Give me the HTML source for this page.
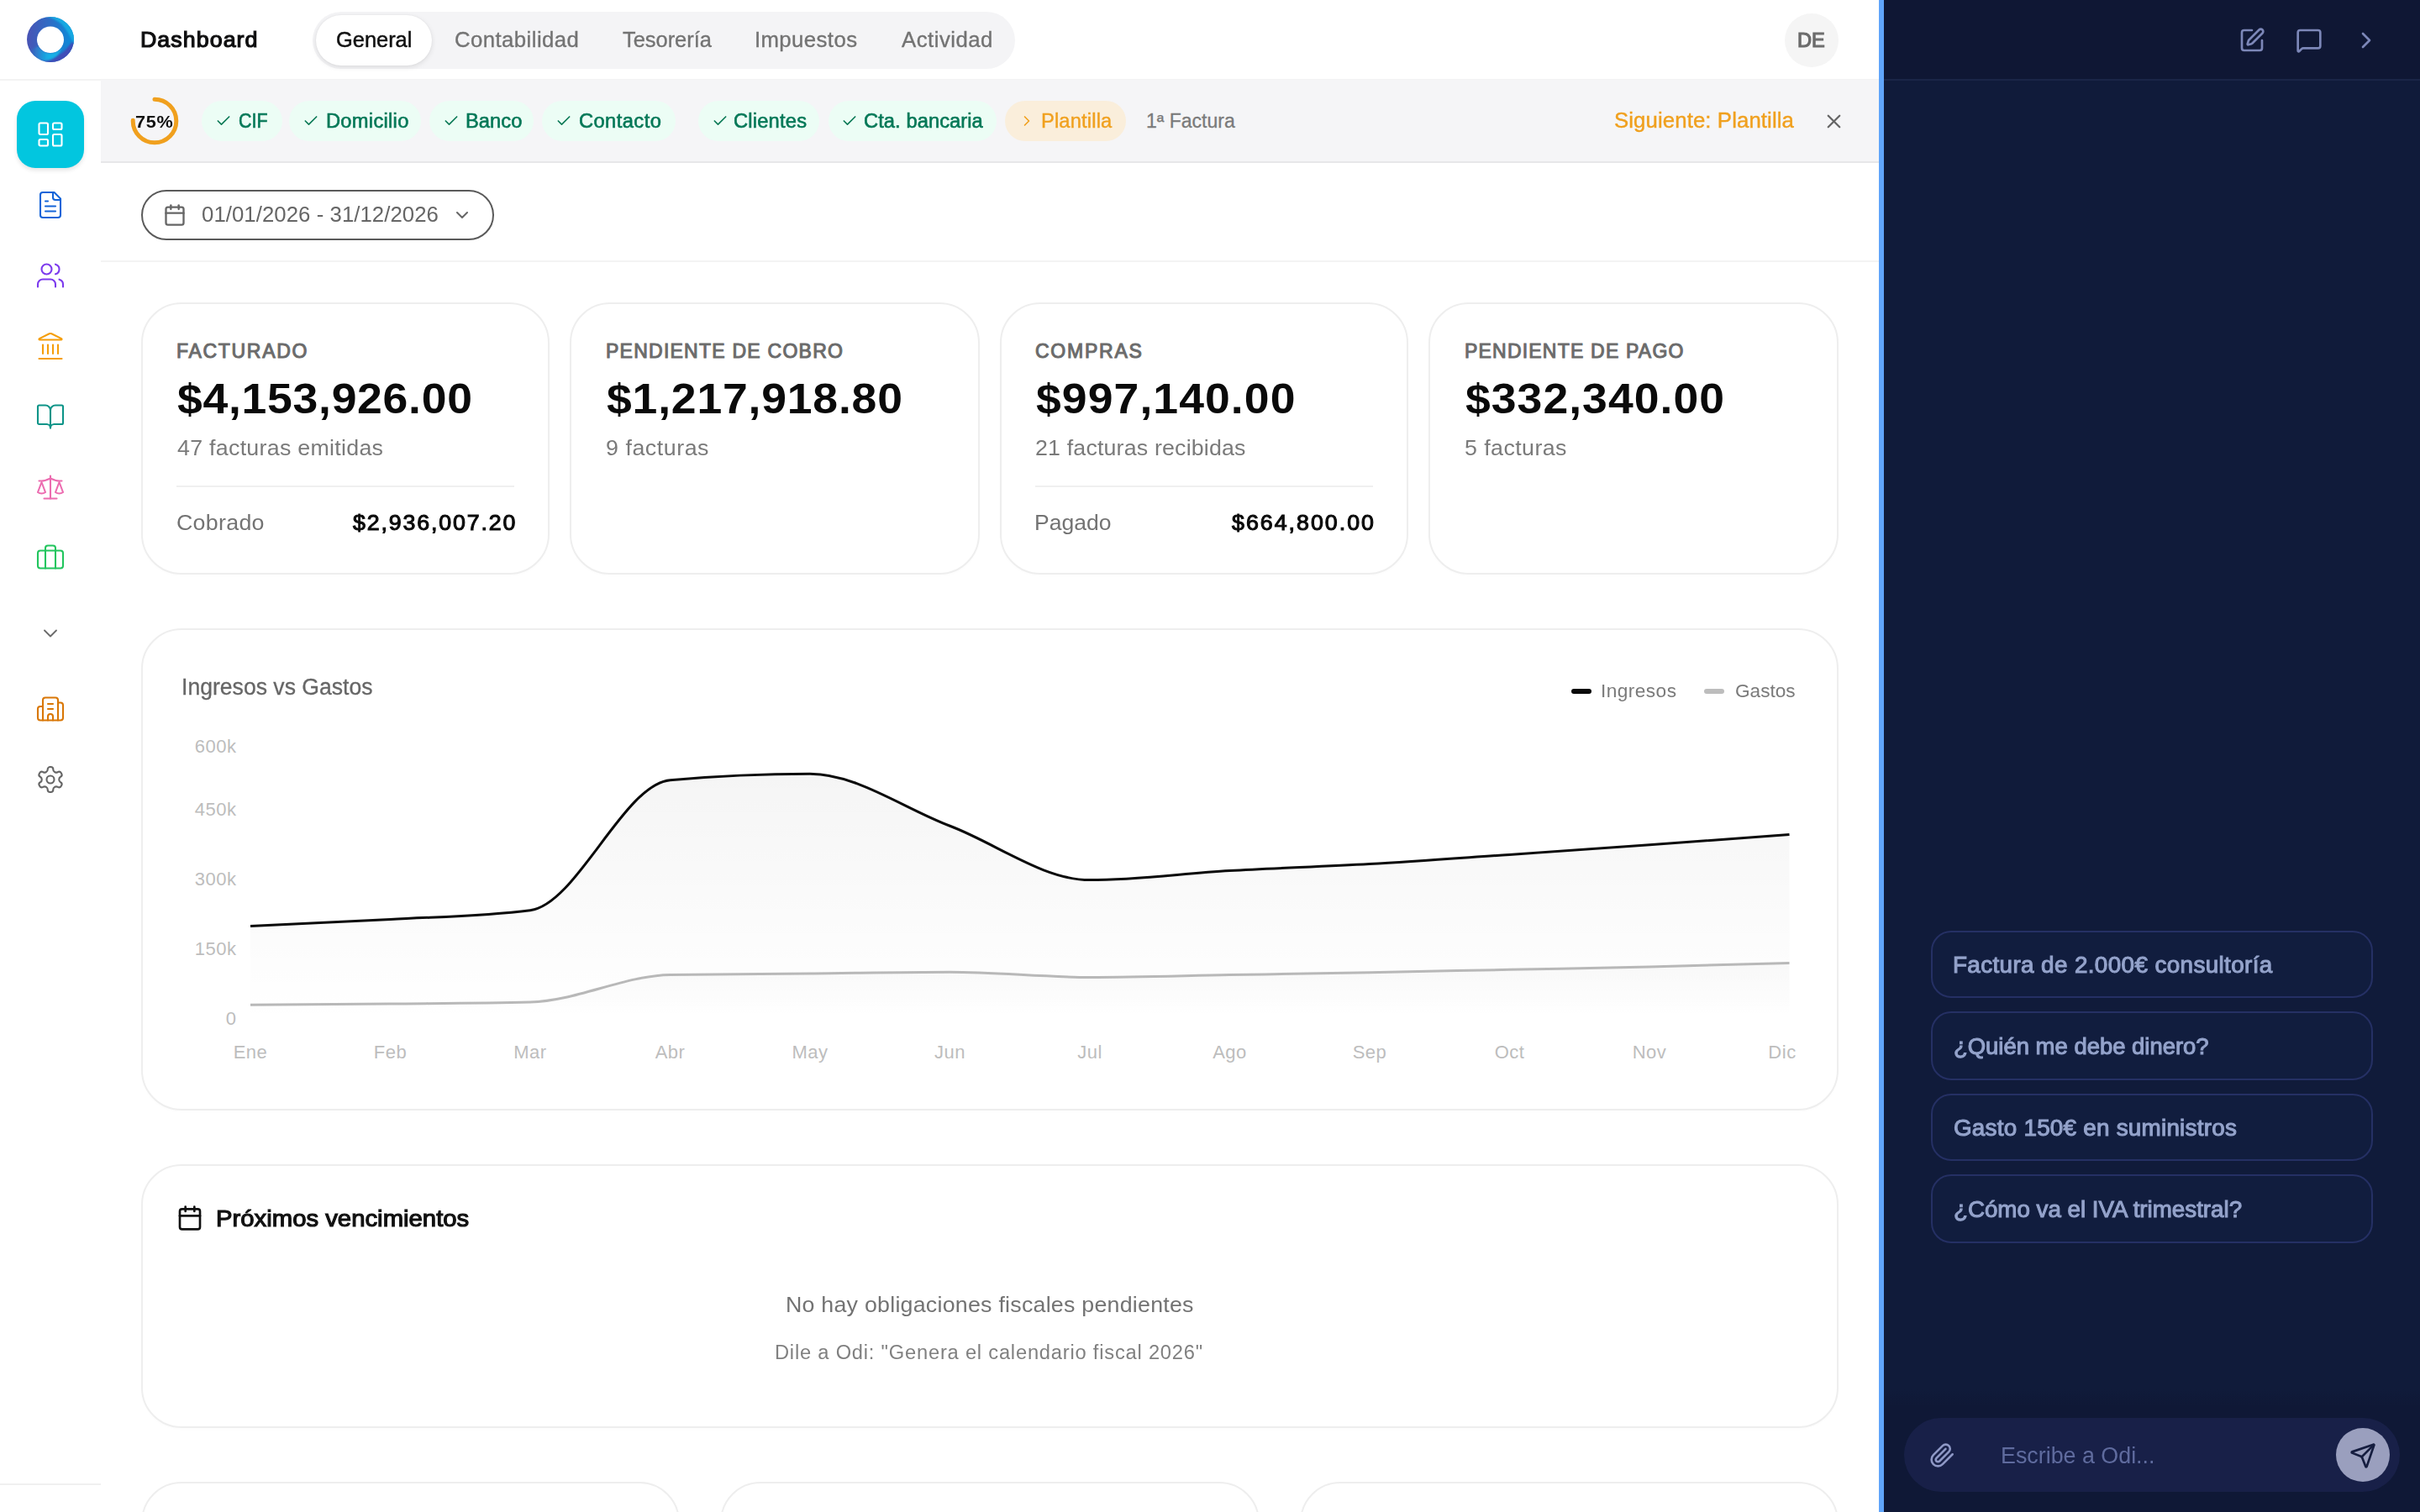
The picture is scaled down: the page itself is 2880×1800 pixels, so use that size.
<!DOCTYPE html><html lang="es"><head><meta charset="utf-8"><title>Dashboard</title><style>

html,body{margin:0;padding:0}
body{width:2880px;height:1800px;position:relative;overflow:hidden;background:#fff;font-family:"Liberation Sans",sans-serif}
@media (max-width:1500px){body{zoom:.5}}
.t{position:absolute;white-space:nowrap;line-height:1}
.i,.b{position:absolute;display:block}
.card{position:absolute;box-sizing:border-box;border:2px solid #eee;border-radius:48px;background:#fff;box-shadow:0 2px 3px rgba(0,0,0,.012)}
.chip{position:absolute;top:120px;height:48px;border-radius:24px;background:#ecfdf5}
.sug{position:absolute;left:2298px;width:526px;height:80px;box-sizing:border-box;border:2px solid #253064;border-radius:24px;background:#111d3e}
.ax{font-family:"Liberation Sans",sans-serif;font-size:22px;fill:#bdbdbd;letter-spacing:.5px}

</style></head><body>
<div class="b" style="left:0;top:94px;width:2236px;height:2px;background:#f3f3f3"></div>
<div class="b" style="left:120px;top:95px;width:2116px;height:97px;background:#f5f5f7"></div>
<div class="b" style="left:120px;top:192px;width:2116px;height:2px;background:#e7e7e9"></div>
<div class="b" style="left:120px;top:310px;width:2116px;height:2px;background:#f3f3f3"></div>
<div class="b" style="left:0;top:1766px;width:120px;height:2px;background:#f0f0f0"></div>
<svg class="i" style="left:28px;top:16px" width="64" height="64" viewBox="0 0 64 64">
<defs><clipPath id="ring"><path clip-rule="evenodd" d="M4 31a28 27 0 1 0 56 0a28 27 0 1 0-56 0ZM16 31.3a16 15.7 0 1 0 32 0a16 15.7 0 1 0-32 0Z"/></clipPath>
<linearGradient id="lg1" x1="0" y1="0" x2="1" y2="0"><stop offset=".08" stop-color="#4854b5"/><stop offset=".5" stop-color="#2d6dc6"/><stop offset=".85" stop-color="#1187d6"/></linearGradient>
<linearGradient id="lg2" gradientUnits="userSpaceOnUse" x1="8" y1="0" x2="30" y2="0"><stop offset="0" stop-color="#15b1e6" stop-opacity="0"/><stop offset="1" stop-color="#15b1e6"/></linearGradient>
<filter id="bl" x="-20%" y="-20%" width="140%" height="140%"><feGaussianBlur stdDeviation="1.3"/></filter></defs>
<g clip-path="url(#ring)"><rect width="64" height="64" fill="url(#lg1)"/>
<path filter="url(#bl)" fill="#3f4db7" d="M61 32C56 35 53 40 50 43.2C47 46.5 45 47.5 42.5 48.8C39 51.5 36 54 32 55.4C29 56.5 27 57 24 57.5L24 68H68V32Z"/>
<path filter="url(#bl)" fill="url(#lg2)" d="M45.5 40A16 15.7 0 0 1 18 39L6 44A28 27 0 0 0 20 55.6C28 58 37 53.5 41.5 48.5C43.5 46 45 43 45.5 40Z"/>
<path filter="url(#bl)" fill="#13a9e2" d="M25 2.5C36 6 44 10 48.5 16.5C53 22 56 29 60.5 37L70 37V-6H25Z"/>
</g></svg>
<div class="b" style="left:20px;top:120px;width:80px;height:80px;border-radius:22px;background:#02c6df;box-shadow:0 3px 5px rgba(0,0,0,.10)"></div>
<svg class="i" style="left:42px;top:142px" width="36" height="36" viewBox="0 0 24 24" fill="none" stroke="#fff" stroke-width="1.4" stroke-linecap="round" stroke-linejoin="round"><rect width="7" height="9" x="3" y="3" rx="1"/><rect width="7" height="5" x="14" y="3" rx="1"/><rect width="7" height="9" x="14" y="12" rx="1"/><rect width="7" height="5" x="3" y="16" rx="1"/></svg>
<svg class="i" style="left:42px;top:226px" width="36" height="36" viewBox="0 0 24 24" fill="none" stroke="#1464d8" stroke-width="1.4" stroke-linecap="round" stroke-linejoin="round"><path d="M15 2H6a2 2 0 0 0-2 2v16a2 2 0 0 0 2 2h12a2 2 0 0 0 2-2V7Z"/><path d="M14 2v4a2 2 0 0 0 2 2h4"/><path d="M10 9H8"/><path d="M16 13H8"/><path d="M16 17H8"/></svg>
<svg class="i" style="left:42px;top:310px" width="36" height="36" viewBox="0 0 24 24" fill="none" stroke="#7c3aed" stroke-width="1.4" stroke-linecap="round" stroke-linejoin="round"><path d="M16 21v-2a4 4 0 0 0-4-4H6a4 4 0 0 0-4 4v2"/><circle cx="9" cy="7" r="4"/><path d="M22 21v-2a4 4 0 0 0-3-3.87"/><path d="M16 3.13a4 4 0 0 1 0 7.75"/></svg>
<svg class="i" style="left:42px;top:394px" width="36" height="36" viewBox="0 0 24 24" fill="none" stroke="#f59e0b" stroke-width="1.4" stroke-linecap="round" stroke-linejoin="round"><path d="M10 18v-7"/><path d="M11.12 2.198a2 2 0 0 1 1.76.006l7.866 3.847c.476.233.31.949-.22.949H3.474c-.53 0-.695-.716-.22-.949z"/><path d="M14 18v-7"/><path d="M18 18v-7"/><path d="M3 22h18"/><path d="M6 18v-7"/></svg>
<svg class="i" style="left:42px;top:478px" width="36" height="36" viewBox="0 0 24 24" fill="none" stroke="#0d9488" stroke-width="1.4" stroke-linecap="round" stroke-linejoin="round"><path d="M12 7v14"/><path d="M3 18a1 1 0 0 1-1-1V4a1 1 0 0 1 1-1h5a4 4 0 0 1 4 4 4 4 0 0 1 4-4h5a1 1 0 0 1 1 1v13a1 1 0 0 1-1 1h-6a3 3 0 0 0-3 3 3 3 0 0 0-3-3z"/></svg>
<svg class="i" style="left:42px;top:562px" width="36" height="36" viewBox="0 0 24 24" fill="none" stroke="#ec6cb0" stroke-width="1.4" stroke-linecap="round" stroke-linejoin="round"><path d="m16 16 3-8 3 8c-.87.65-1.92 1-3 1s-2.13-.35-3-1Z"/><path d="m2 16 3-8 3 8c-.87.65-1.92 1-3 1s-2.13-.35-3-1Z"/><path d="M7 21h10"/><path d="M12 3v18"/><path d="M3 7h2c2 0 5-1 7-2 2 1 5 2 7 2h2"/></svg>
<svg class="i" style="left:42px;top:645px" width="36" height="36" viewBox="0 0 24 24" fill="none" stroke="#22c55e" stroke-width="1.4" stroke-linecap="round" stroke-linejoin="round"><rect width="20" height="14" x="2" y="7" rx="2" ry="2"/><path d="M16 21V5a2 2 0 0 0-2-2h-4a2 2 0 0 0-2 2v16"/></svg>
<svg class="i" style="left:46px;top:740px" width="28" height="28" viewBox="0 0 24 24" fill="none" stroke="#6b6b6b" stroke-width="1.6" stroke-linecap="round" stroke-linejoin="round"><path d="m6 9 6 6 6-6"/></svg>
<svg class="i" style="left:42px;top:826px" width="36" height="36" viewBox="0 0 24 24" fill="none" stroke="#d97706" stroke-width="1.4" stroke-linecap="round" stroke-linejoin="round"><path d="M10 12h4"/><path d="M10 8h4"/><path d="M14 21v-3a2 2 0 0 0-4 0v3"/><path d="M6 10H4a2 2 0 0 0-2 2v7a2 2 0 0 0 2 2h16a2 2 0 0 0 2-2V9a2 2 0 0 0-2-2h-2"/><path d="M6 21V5a2 2 0 0 1 2-2h8a2 2 0 0 1 2 2v16"/></svg>
<svg class="i" style="left:42px;top:910px" width="36" height="36" viewBox="0 0 24 24" fill="none" stroke="#666" stroke-width="1.4" stroke-linecap="round" stroke-linejoin="round"><path d="M12.22 2h-.44a2 2 0 0 0-2 2v.18a2 2 0 0 1-1 1.73l-.43.25a2 2 0 0 1-2 0l-.15-.08a2 2 0 0 0-2.73.73l-.22.38a2 2 0 0 0 .73 2.73l.15.1a2 2 0 0 1 1 1.72v.51a2 2 0 0 1-1 1.74l-.15.09a2 2 0 0 0-.73 2.73l.22.38a2 2 0 0 0 2.73.73l.15-.08a2 2 0 0 1 2 0l.43.25a2 2 0 0 1 1 1.73V20a2 2 0 0 0 2 2h.44a2 2 0 0 0 2-2v-.18a2 2 0 0 1 1-1.73l.43-.25a2 2 0 0 1 2 0l.15.08a2 2 0 0 0 2.73-.73l.22-.39a2 2 0 0 0-.73-2.73l-.15-.08a2 2 0 0 1-1-1.74v-.5a2 2 0 0 1 1-1.74l.15-.09a2 2 0 0 0 .73-2.73l-.22-.38a2 2 0 0 0-2.73-.73l-.15.08a2 2 0 0 1-2 0l-.43-.25a2 2 0 0 1-1-1.73V4a2 2 0 0 0-2-2z"/><circle cx="12" cy="12" r="3"/></svg>
<div class="b" style="left:372px;top:14px;width:836px;height:68px;border-radius:34px;background:#f4f4f6"></div>
<div class="b" style="left:376px;top:18px;width:138px;height:60px;border-radius:30px;background:#fff;box-shadow:0 2px 6px rgba(0,0,0,.10),0 0 2px rgba(0,0,0,.06)"></div>
<div class="b" style="left:2124px;top:16px;width:64px;height:64px;border-radius:32px;background:#f5f5f5"></div>
<svg class="i" style="left:152px;top:112px" width="64" height="64" viewBox="0 0 64 64"><circle cx="32" cy="32" r="25.8" fill="none" stroke="#f0a01e" stroke-width="5" stroke-linecap="round" stroke-dasharray="121.6 200" transform="rotate(-90 32 32)"/></svg>
<div class="chip" style="left:240px;width:96px"></div>
<svg class="i" style="left:255.8px;top:134.3px" width="20" height="20" viewBox="0 0 24 24" fill="none" stroke="#0b7a56" stroke-width="2" stroke-linecap="round" stroke-linejoin="round"><path d="M20 6 9 17l-5-5"/></svg>
<div class="chip" style="left:344px;width:157px"></div>
<svg class="i" style="left:359.8px;top:134.3px" width="20" height="20" viewBox="0 0 24 24" fill="none" stroke="#0b7a56" stroke-width="2" stroke-linecap="round" stroke-linejoin="round"><path d="M20 6 9 17l-5-5"/></svg>
<div class="chip" style="left:511px;width:124px"></div>
<svg class="i" style="left:526.8px;top:134.3px" width="20" height="20" viewBox="0 0 24 24" fill="none" stroke="#0b7a56" stroke-width="2" stroke-linecap="round" stroke-linejoin="round"><path d="M20 6 9 17l-5-5"/></svg>
<div class="chip" style="left:645px;width:159px"></div>
<svg class="i" style="left:660.8px;top:134.3px" width="20" height="20" viewBox="0 0 24 24" fill="none" stroke="#0b7a56" stroke-width="2" stroke-linecap="round" stroke-linejoin="round"><path d="M20 6 9 17l-5-5"/></svg>
<div class="chip" style="left:831px;width:144px"></div>
<svg class="i" style="left:846.8px;top:134.3px" width="20" height="20" viewBox="0 0 24 24" fill="none" stroke="#0b7a56" stroke-width="2" stroke-linecap="round" stroke-linejoin="round"><path d="M20 6 9 17l-5-5"/></svg>
<div class="chip" style="left:985.5px;width:200.5px"></div>
<svg class="i" style="left:1001.3px;top:134.3px" width="20" height="20" viewBox="0 0 24 24" fill="none" stroke="#0b7a56" stroke-width="2" stroke-linecap="round" stroke-linejoin="round"><path d="M20 6 9 17l-5-5"/></svg>
<div class="chip" style="left:1196px;width:144px;background:#faeedb"></div>
<svg class="i" style="left:1211.75px;top:134px" width="20" height="20" viewBox="0 0 24 24" fill="none" stroke="#f0a01e" stroke-width="2" stroke-linecap="round" stroke-linejoin="round"><path d="m9 18 6-6-6-6"/></svg>
<svg class="i" style="left:2168.6px;top:130.6px" width="27" height="27" viewBox="0 0 24 24" fill="none" stroke="#666" stroke-width="2" stroke-linecap="round" stroke-linejoin="round"><path d="M18 6 6 18"/><path d="m6 6 12 12"/></svg>
<div class="b" style="left:168px;top:226px;width:420px;height:60px;box-sizing:border-box;border:2px solid #5a5a5a;border-radius:30px"></div>
<svg class="i" style="left:194px;top:242.4px" width="28" height="28" viewBox="0 0 24 24" fill="none" stroke="#666" stroke-width="2" stroke-linecap="round" stroke-linejoin="round"><path d="M8 2v4"/><path d="M16 2v4"/><rect width="18" height="18" x="3" y="4" rx="2"/><path d="M3 10h18"/></svg>
<svg class="i" style="left:538.25px;top:244.25px" width="24" height="24" viewBox="0 0 24 24" fill="none" stroke="#666" stroke-width="2" stroke-linecap="round" stroke-linejoin="round"><path d="m6 9 6 6 6-6"/></svg>
<div class="card" style="left:168px;top:360px;width:486px;height:324px"></div>
<div class="card" style="left:678px;top:360px;width:488px;height:324px"></div>
<div class="card" style="left:1190px;top:360px;width:486px;height:324px"></div>
<div class="card" style="left:1700px;top:360px;width:488px;height:324px"></div>
<div class="b" style="left:210px;top:578px;width:402px;height:2px;background:#f0f0f0"></div>
<div class="b" style="left:1232px;top:578px;width:402px;height:2px;background:#f0f0f0"></div>
<div class="card" style="left:168px;top:748px;width:2020px;height:574px"></div>
<svg class="i" style="left:0;top:0" width="2236" height="1800" viewBox="0 0 2236 1800"><defs><linearGradient id="gi" x1="0" y1="881" x2="0" y2="1212" gradientUnits="userSpaceOnUse"><stop offset="0" stop-color="#000" stop-opacity=".045"/><stop offset="1" stop-color="#000" stop-opacity="0"/></linearGradient><linearGradient id="gg" x1="0" y1="1146" x2="0" y2="1212" gradientUnits="userSpaceOnUse"><stop offset="0" stop-color="#000" stop-opacity=".02"/><stop offset="1" stop-color="#000" stop-opacity="0"/></linearGradient></defs><path d="M298.00,1102.50C353.50,1100.06,409.00,1097.62,464.50,1094.50C520.00,1091.38,575.50,1090.92,631.00,1083.75C686.50,1076.58,742.00,933.75,797.50,928.75C853.00,923.75,908.50,921.25,964.00,921.25C1019.50,921.25,1075.00,962.19,1130.50,983.25C1186.00,1004.31,1241.50,1047.60,1297.00,1047.60C1352.50,1047.60,1408.00,1039.67,1463.50,1036.50C1519.00,1033.33,1574.50,1031.78,1630.00,1028.60C1685.50,1025.42,1741.00,1021.20,1796.50,1017.40C1852.00,1013.60,1907.50,1009.78,1963.00,1005.80C2018.50,1001.82,2074.00,997.66,2129.50,993.50L2129.50,1212.30L298.00,1212.30Z" fill="url(#gi)"/><path d="M298.00,1196.25C353.50,1195.90,409.00,1195.54,464.50,1195.00C520.00,1194.46,575.50,1194.33,631.00,1193.00C686.50,1191.67,742.00,1161.50,797.50,1160.50C853.00,1159.50,908.50,1159.54,964.00,1159.00C1019.50,1158.46,1075.00,1157.25,1130.50,1157.25C1186.00,1157.25,1241.50,1163.40,1297.00,1163.40C1352.50,1163.40,1408.00,1161.55,1463.50,1160.60C1519.00,1159.65,1574.50,1158.75,1630.00,1157.70C1685.50,1156.65,1741.00,1155.42,1796.50,1154.30C1852.00,1153.18,1907.50,1152.32,1963.00,1151.00C2018.50,1149.68,2074.00,1148.04,2129.50,1146.40L2129.50,1212.30L298.00,1212.30Z" fill="url(#gg)"/><path d="M298.00,1102.50C353.50,1100.06,409.00,1097.62,464.50,1094.50C520.00,1091.38,575.50,1090.92,631.00,1083.75C686.50,1076.58,742.00,933.75,797.50,928.75C853.00,923.75,908.50,921.25,964.00,921.25C1019.50,921.25,1075.00,962.19,1130.50,983.25C1186.00,1004.31,1241.50,1047.60,1297.00,1047.60C1352.50,1047.60,1408.00,1039.67,1463.50,1036.50C1519.00,1033.33,1574.50,1031.78,1630.00,1028.60C1685.50,1025.42,1741.00,1021.20,1796.50,1017.40C1852.00,1013.60,1907.50,1009.78,1963.00,1005.80C2018.50,1001.82,2074.00,997.66,2129.50,993.50" fill="none" stroke="#0a0a0a" stroke-width="3"/><path d="M298.00,1196.25C353.50,1195.90,409.00,1195.54,464.50,1195.00C520.00,1194.46,575.50,1194.33,631.00,1193.00C686.50,1191.67,742.00,1161.50,797.50,1160.50C853.00,1159.50,908.50,1159.54,964.00,1159.00C1019.50,1158.46,1075.00,1157.25,1130.50,1157.25C1186.00,1157.25,1241.50,1163.40,1297.00,1163.40C1352.50,1163.40,1408.00,1161.55,1463.50,1160.60C1519.00,1159.65,1574.50,1158.75,1630.00,1157.70C1685.50,1156.65,1741.00,1155.42,1796.50,1154.30C1852.00,1153.18,1907.50,1152.32,1963.00,1151.00C2018.50,1149.68,2074.00,1148.04,2129.50,1146.40" fill="none" stroke="#b8b8b8" stroke-width="3"/><text x="281.5" y="896.1" text-anchor="end" class="ax">600k</text><text x="281.5" y="971.3" text-anchor="end" class="ax">450k</text><text x="281.5" y="1054.1" text-anchor="end" class="ax">300k</text><text x="281.5" y="1137.0" text-anchor="end" class="ax">150k</text><text x="281.5" y="1219.8" text-anchor="end" class="ax">0</text><text x="298.0" y="1260" text-anchor="middle" class="ax">Ene</text><text x="464.5" y="1260" text-anchor="middle" class="ax">Feb</text><text x="631.0" y="1260" text-anchor="middle" class="ax">Mar</text><text x="797.5" y="1260" text-anchor="middle" class="ax">Abr</text><text x="964.0" y="1260" text-anchor="middle" class="ax">May</text><text x="1130.5" y="1260" text-anchor="middle" class="ax">Jun</text><text x="1297.0" y="1260" text-anchor="middle" class="ax">Jul</text><text x="1463.5" y="1260" text-anchor="middle" class="ax">Ago</text><text x="1630.0" y="1260" text-anchor="middle" class="ax">Sep</text><text x="1796.5" y="1260" text-anchor="middle" class="ax">Oct</text><text x="1963.0" y="1260" text-anchor="middle" class="ax">Nov</text><text x="2121.0" y="1260" text-anchor="middle" class="ax">Dic</text></svg>
<div class="b" style="left:1870px;top:820px;width:24px;height:6px;border-radius:3px;background:#0a0a0a"></div>
<div class="b" style="left:2028px;top:820px;width:24px;height:6px;border-radius:3px;background:#bdbdbd"></div>
<div class="card" style="left:168px;top:1386px;width:2020px;height:314px"></div>
<svg class="i" style="left:210.1px;top:1434px" width="32" height="32" viewBox="0 0 24 24" fill="none" stroke="#111" stroke-width="2" stroke-linecap="round" stroke-linejoin="round"><path d="M8 2v4"/><path d="M16 2v4"/><rect width="18" height="18" x="3" y="4" rx="2"/><path d="M3 10h18"/></svg>
<div class="card" style="left:168.0px;top:1764px;width:641.33px;height:200px"></div>
<div class="card" style="left:857.3px;top:1764px;width:641.33px;height:200px"></div>
<div class="card" style="left:1546.7px;top:1764px;width:641.33px;height:200px"></div>
<div class="b" style="left:2236px;top:0;width:6px;height:1800px;background:#60a5fa"></div>
<div class="b" style="left:2242px;top:0;width:638px;height:1800px;background:#101b3a"></div>
<div class="b" style="left:2242px;top:0;width:638px;height:94px;background:#0f1734"></div>
<div class="b" style="left:2242px;top:94px;width:638px;height:2px;background:#1a2547"></div>
<div class="b" style="left:2242px;top:1654px;width:638px;height:146px;background:linear-gradient(#101b3a,#0f1836 14%,#0f1836)"></div>
<svg class="i" style="left:2664px;top:32px" width="32" height="32" viewBox="0 0 24 24" fill="none" stroke="#7c87b8" stroke-width="2" stroke-linecap="round" stroke-linejoin="round"><path d="M12 3H5a2 2 0 0 0-2 2v14a2 2 0 0 0 2 2h14a2 2 0 0 0 2-2v-7"/><path d="M18.375 2.625a1 1 0 0 1 3 3l-9.013 9.014a2 2 0 0 1-.853.505l-2.873.84a.5.5 0 0 1-.62-.62l.84-2.873a2 2 0 0 1 .506-.852z"/></svg>
<svg class="i" style="left:2732px;top:32px" width="32" height="32" viewBox="0 0 24 24" fill="none" stroke="#7c87b8" stroke-width="2" stroke-linecap="round" stroke-linejoin="round"><path d="M22 17a2 2 0 0 1-2 2H6.828a2 2 0 0 0-1.414.586l-2.202 2.202A.71.71 0 0 1 2 21.286V5a2 2 0 0 1 2-2h16a2 2 0 0 1 2 2z"/></svg>
<svg class="i" style="left:2800px;top:32px" width="32" height="32" viewBox="0 0 24 24" fill="none" stroke="#7c87b8" stroke-width="2" stroke-linecap="round" stroke-linejoin="round"><path d="m9 18 6-6-6-6"/></svg>
<div class="sug" style="top:1108px;height:79.5px"></div>
<div class="sug" style="top:1204px;height:81.5px"></div>
<div class="sug" style="top:1302px;height:79.5px"></div>
<div class="sug" style="top:1398px;height:82px"></div>
<div class="b" style="left:2266px;top:1688px;width:590px;height:88px;border-radius:44px;background:#182048"></div>
<svg class="i" style="left:2295.5px;top:1716.5px" width="31" height="31" viewBox="0 0 24 24" fill="none" stroke="#8e98c6" stroke-width="2" stroke-linecap="round" stroke-linejoin="round"><path d="m21.44 11.05-9.19 9.19a6 6 0 0 1-8.49-8.49l8.57-8.57A4 4 0 1 1 18 8.84l-8.59 8.57a2 2 0 0 1-2.83-2.83l8.49-8.48"/></svg>
<div class="b" style="left:2780px;top:1700px;width:64px;height:64px;border-radius:32px;background:#9a9fbe"></div>
<svg class="i" style="left:2795.5px;top:1716.5px" width="32" height="32" viewBox="0 0 24 24" fill="none" stroke="#151d3f" stroke-width="2" stroke-linecap="round" stroke-linejoin="round"><path d="M14.536 21.686a.5.5 0 0 0 .937-.024l6.5-19a.496.496 0 0 0-.635-.635l-19 6.5a.5.5 0 0 0-.024.937l7.93 3.18a2 2 0 0 1 1.112 1.11z"/><path d="m21.854 2.147-10.94 10.939"/></svg>
<span class="t" style="left:167.00px;top:34.00px;font-size:26px;font-weight:400;color:#0f0f10;letter-spacing:1.038px;-webkit-text-stroke:1.2px #0f0f10;transform:scaleX(1.0300);transform-origin:2.00px 50%;">Dashboard</span>
<span class="t" style="left:399.70px;top:35.00px;font-size:25px;font-weight:400;color:#111;letter-spacing:0.000px;-webkit-text-stroke:.5px #111;transform:scaleX(1.0164);transform-origin:1.00px 50%;">General</span>
<span class="t" style="left:541.00px;top:35.00px;font-size:25px;font-weight:400;color:#737373;letter-spacing:0.424px;-webkit-text-stroke:.35px #737373;transform:scaleX(1.0300);transform-origin:1.00px 50%;">Contabilidad</span>
<span class="t" style="left:740.50px;top:35.00px;font-size:25px;font-weight:400;color:#737373;letter-spacing:0.000px;-webkit-text-stroke:.35px #737373;transform:scaleX(1.0162);transform-origin:0.00px 50%;">Tesorería</span>
<span class="t" style="left:897.50px;top:35.00px;font-size:25px;font-weight:400;color:#737373;letter-spacing:0.398px;-webkit-text-stroke:.35px #737373;transform:scaleX(1.0300);transform-origin:2.00px 50%;">Impuestos</span>
<span class="t" style="left:1072.50px;top:35.00px;font-size:25px;font-weight:400;color:#737373;letter-spacing:0.479px;-webkit-text-stroke:.35px #737373;transform:scaleX(1.0300);transform-origin:0.00px 50%;">Actividad</span>
<span class="t" style="left:2138.50px;top:36.00px;font-size:24.5px;font-weight:400;color:#6b6b6b;letter-spacing:0.000px;-webkit-text-stroke:1.2px #6b6b6b;transform:scaleX(0.9624);transform-origin:2.00px 50%;">DE</span>
<span class="t" style="left:161.00px;top:134.00px;font-size:21px;font-weight:700;color:#111;letter-spacing:0.665px;transform:scaleX(1.0300);transform-origin:0.00px 50%;">75%</span>
<span class="t" style="left:284.00px;top:133.00px;font-size:23px;font-weight:400;color:#047857;letter-spacing:0.000px;-webkit-text-stroke:.6px #047857;transform:scaleX(0.9306);transform-origin:1.00px 50%;">CIF</span>
<span class="t" style="left:388.00px;top:133.00px;font-size:23px;font-weight:400;color:#047857;letter-spacing:0.274px;-webkit-text-stroke:.6px #047857;transform:scaleX(1.0300);transform-origin:1.00px 50%;">Domicilio</span>
<span class="t" style="left:553.50px;top:133.00px;font-size:23px;font-weight:400;color:#047857;letter-spacing:0.042px;-webkit-text-stroke:.6px #047857;transform:scaleX(1.0300);transform-origin:1.00px 50%;">Banco</span>
<span class="t" style="left:689.00px;top:133.00px;font-size:23px;font-weight:400;color:#047857;letter-spacing:0.420px;-webkit-text-stroke:.6px #047857;transform:scaleX(1.0300);transform-origin:1.00px 50%;">Contacto</span>
<span class="t" style="left:873.00px;top:133.00px;font-size:23px;font-weight:400;color:#047857;letter-spacing:0.202px;-webkit-text-stroke:.6px #047857;transform:scaleX(1.0300);transform-origin:1.00px 50%;">Clientes</span>
<span class="t" style="left:1028.00px;top:133.00px;font-size:23px;font-weight:400;color:#047857;letter-spacing:0.074px;-webkit-text-stroke:.6px #047857;transform:scaleX(1.0300);transform-origin:1.00px 50%;">Cta. bancaria</span>
<span class="t" style="left:1239.00px;top:133.00px;font-size:23px;font-weight:400;color:#f0a01e;letter-spacing:0.164px;-webkit-text-stroke:.4px #f0a01e;transform:scaleX(1.0300);transform-origin:1.00px 50%;">Plantilla</span>
<span class="t" style="left:1364.00px;top:133.00px;font-size:23px;font-weight:400;color:#7a7a7a;letter-spacing:0.000px;-webkit-text-stroke:.3px #7a7a7a;">1ª Factura</span>
<span class="t" style="left:1921.00px;top:131.00px;font-size:25px;font-weight:400;color:#f0a01e;letter-spacing:0.106px;-webkit-text-stroke:.4px #f0a01e;transform:scaleX(1.0300);transform-origin:1.00px 50%;">Siguiente: Plantilla</span>
<span class="t" style="left:239.50px;top:243.00px;font-size:25px;font-weight:400;color:#666;letter-spacing:0.057px;transform:scaleX(1.0300);transform-origin:0.00px 50%;">01/01/2026 - 31/12/2026</span>
<span class="t" style="left:210.00px;top:407.00px;font-size:23px;font-weight:400;color:#6b6b6b;letter-spacing:1.694px;-webkit-text-stroke:1.05px #6b6b6b;">FACTURADO</span>
<span class="t" style="left:721.00px;top:407.00px;font-size:23px;font-weight:400;color:#6b6b6b;letter-spacing:1.246px;-webkit-text-stroke:1.05px #6b6b6b;">PENDIENTE DE COBRO</span>
<span class="t" style="left:1232.00px;top:407.00px;font-size:23px;font-weight:400;color:#6b6b6b;letter-spacing:1.758px;-webkit-text-stroke:1.05px #6b6b6b;">COMPRAS</span>
<span class="t" style="left:1743.00px;top:407.00px;font-size:23px;font-weight:400;color:#6b6b6b;letter-spacing:1.204px;-webkit-text-stroke:1.05px #6b6b6b;">PENDIENTE DE PAGO</span>
<span class="t" style="left:211.00px;top:450.00px;font-size:50px;font-weight:700;color:#0a0a0a;letter-spacing:0.685px;transform:scaleX(1.0700);transform-origin:0.00px 50%;">$4,153,926.00</span>
<span class="t" style="left:722.00px;top:450.00px;font-size:50px;font-weight:700;color:#0a0a0a;letter-spacing:0.763px;transform:scaleX(1.0700);transform-origin:0.00px 50%;">$1,217,918.80</span>
<span class="t" style="left:1233.00px;top:450.00px;font-size:50px;font-weight:700;color:#0a0a0a;letter-spacing:1.020px;transform:scaleX(1.0700);transform-origin:0.00px 50%;">$997,140.00</span>
<span class="t" style="left:1744.00px;top:450.00px;font-size:50px;font-weight:700;color:#0a0a0a;letter-spacing:0.974px;transform:scaleX(1.0700);transform-origin:0.00px 50%;">$332,340.00</span>
<span class="t" style="left:211.00px;top:520.00px;font-size:26px;font-weight:400;color:#7a7a7a;letter-spacing:0.274px;transform:scaleX(1.0300);transform-origin:0.00px 50%;">47 facturas emitidas</span>
<span class="t" style="left:721.00px;top:520.00px;font-size:26px;font-weight:400;color:#7a7a7a;letter-spacing:0.532px;transform:scaleX(1.0300);transform-origin:1.00px 50%;">9 facturas</span>
<span class="t" style="left:1232.00px;top:520.00px;font-size:26px;font-weight:400;color:#7a7a7a;letter-spacing:0.166px;transform:scaleX(1.0300);transform-origin:1.00px 50%;">21 facturas recibidas</span>
<span class="t" style="left:1743.00px;top:520.00px;font-size:26px;font-weight:400;color:#7a7a7a;letter-spacing:0.425px;transform:scaleX(1.0300);transform-origin:1.00px 50%;">5 facturas</span>
<span class="t" style="left:210.00px;top:609.00px;font-size:26px;font-weight:400;color:#737373;letter-spacing:0.288px;transform:scaleX(1.0300);transform-origin:1.00px 50%;">Cobrado</span>
<span class="t" style="left:419.50px;top:610.00px;font-size:25px;font-weight:400;color:#0a0a0a;letter-spacing:1.745px;-webkit-text-stroke:1.05px #0a0a0a;transform:scaleX(1.0700);transform-origin:0.00px 50%;">$2,936,007.20</span>
<span class="t" style="left:1231.00px;top:609.00px;font-size:26px;font-weight:400;color:#737373;letter-spacing:0.000px;transform:scaleX(1.0209);transform-origin:2.00px 50%;">Pagado</span>
<span class="t" style="left:1466.00px;top:610.00px;font-size:25px;font-weight:400;color:#0a0a0a;letter-spacing:1.889px;-webkit-text-stroke:1.05px #0a0a0a;transform:scaleX(1.0700);transform-origin:0.00px 50%;">$664,800.00</span>
<span class="t" style="left:216.00px;top:805.00px;font-size:27px;font-weight:400;color:#666;letter-spacing:0.000px;-webkit-text-stroke:.3px #666;transform:scaleX(0.9843);transform-origin:2.00px 50%;">Ingresos vs Gastos</span>
<span class="t" style="left:1905.40px;top:812.00px;font-size:22px;font-weight:400;color:#7a7a7a;letter-spacing:0.437px;transform:scaleX(1.0300);transform-origin:2.00px 50%;">Ingresos</span>
<span class="t" style="left:2064.50px;top:812.00px;font-size:22px;font-weight:400;color:#7a7a7a;letter-spacing:0.000px;transform:scaleX(1.0277);transform-origin:1.00px 50%;">Gastos</span>
<span class="t" style="left:257.00px;top:1436.00px;font-size:28.5px;font-weight:400;color:#111;letter-spacing:0.000px;-webkit-text-stroke:1.2px #111;transform:scaleX(1.0283);transform-origin:2.00px 50%;">Próximos vencimientos</span>
<span class="t" style="left:934.50px;top:1540.00px;font-size:26px;font-weight:400;color:#737373;letter-spacing:0.234px;transform:scaleX(1.0300);transform-origin:2.00px 50%;">No hay obligaciones fiscales pendientes</span>
<span class="t" style="left:922.00px;top:1599.00px;font-size:23px;font-weight:400;color:#808080;letter-spacing:0.764px;transform:scaleX(1.0300);transform-origin:1.00px 50%;">Dile a Odi: "Genera el calendario fiscal 2026"</span>
<span class="t" style="left:2323.70px;top:1136.00px;font-size:27px;font-weight:400;color:#94a3cb;letter-spacing:0.377px;-webkit-text-stroke:1.05px #94a3cb;transform:scaleX(1.0300);transform-origin:2.00px 50%;">Factura de 2.000€ consultoría</span>
<span class="t" style="left:2324.70px;top:1233.00px;font-size:27px;font-weight:400;color:#94a3cb;letter-spacing:0.000px;-webkit-text-stroke:1.05px #94a3cb;transform:scaleX(1.0166);transform-origin:1.00px 50%;">¿Quién me debe dinero?</span>
<span class="t" style="left:2324.70px;top:1330.00px;font-size:27px;font-weight:400;color:#94a3cb;letter-spacing:0.245px;-webkit-text-stroke:1.05px #94a3cb;transform:scaleX(1.0300);transform-origin:1.00px 50%;">Gasto 150€ en suministros</span>
<span class="t" style="left:2324.70px;top:1427.00px;font-size:27px;font-weight:400;color:#94a3cb;letter-spacing:0.000px;-webkit-text-stroke:1.05px #94a3cb;transform:scaleX(1.0270);transform-origin:1.00px 50%;">¿Cómo va el IVA trimestral?</span>
<span class="t" style="left:2381.00px;top:1720.00px;font-size:27px;font-weight:400;color:#5f6b9e;letter-spacing:0.000px;transform:scaleX(0.9941);transform-origin:2.00px 50%;">Escribe a Odi...</span>
</body></html>
